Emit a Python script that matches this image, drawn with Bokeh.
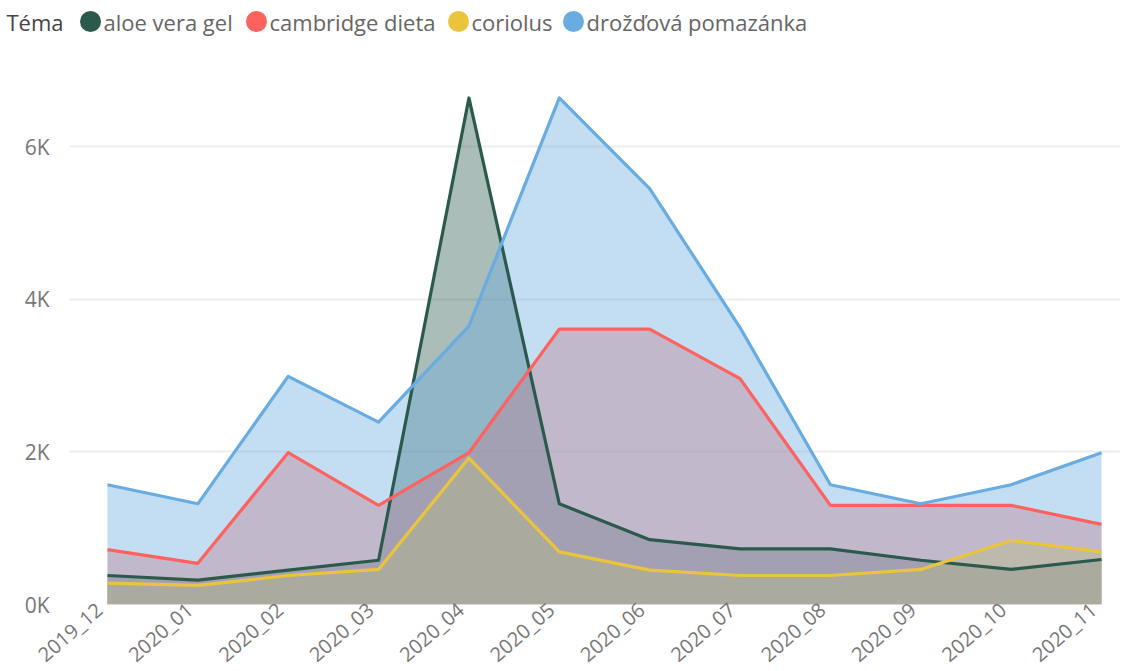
import math
from bokeh.plotting import figure
from bokeh.layouts import column
from bokeh.models import Range1d, FixedTicker, LinearAxis
from bokeh.core.properties import value
from bokeh.embed import file_html
from bokeh.resources import INLINE

# ---- data ----
months = ["2019_12", "2020_01", "2020_02", "2020_03", "2020_04", "2020_05",
          "2020_06", "2020_07", "2020_08", "2020_09", "2020_10", "2020_11"]
aloe_vera_gel = [380, 320, 450, 580, 6640, 1320, 850, 730, 730, 580, 460, 590]
cambridge_dieta = [720, 540, 1990, 1300, 1990, 3610, 3610, 2960, 1300, 1300, 1300, 1050]
coriolus = [280, 250, 380, 460, 1920, 690, 450, 380, 380, 460, 840, 690]
drozdova_pomazanka = [1570, 1320, 2990, 2390, 3650, 6640, 5450, 3630, 1570, 1320, 1570, 1990]

series_names = ["aloe vera gel", "cambridge dieta", "coriolus", "drožďová pomazánka"]
series_values = [aloe_vera_gel, cambridge_dieta, coriolus, drozdova_pomazanka]
colors = ["#2B5A4D", "#FD625E", "#EBC43E", "#68ACE2"]
legend_title = "Téma"
y_ticks = [0, 2000, 4000, 6000]
y_tick_labels = ["0K", "2K", "4K", "6K"]

FONT = "Open Sans"
x = list(range(len(months)))

LEFT = 69
FRAME_W = 1051
LEG_Y = 19
X0, X1 = -0.42, 11.21
LABEL_SHIFT = 0.09  # rotated month labels sit slightly left of their points

# ---- legend strip (data units == pixels) ----
leg = figure(frame_width=FRAME_W, frame_height=40, output_backend="svg",
             toolbar_location=None,
             x_range=Range1d(LEFT, LEFT + FRAME_W), y_range=Range1d(0, 40),
             min_border_left=LEFT, min_border_right=0, min_border_top=0,
             min_border_bottom=0, outline_line_color=None)
leg.xaxis.visible = False
leg.grid.visible = False
# legend title rendered as the single label of the strip's left axis
leg.yaxis.ticker = FixedTicker(ticks=[LEG_Y])
leg.yaxis.major_label_overrides = {LEG_Y: legend_title}
leg.yaxis.axis_line_color = None
leg.yaxis.major_tick_line_color = None
leg.yaxis.minor_tick_line_color = None
leg.yaxis.major_tick_out = 0
leg.yaxis.major_tick_in = 0
leg.yaxis.major_label_standoff = 6
leg.yaxis.major_label_text_font = FONT
leg.yaxis.major_label_text_font_size = "22px"
leg.yaxis.major_label_text_color = "#444444"

circle_x = [90, 256, 458, 573]
for cx, name, col in zip(circle_x, series_names, colors):
    leg.scatter(x=[cx], y=[LEG_Y], size=21, marker="circle",
                fill_color=col, line_color=None)
    leg.text(x=[cx + 13], y=[LEG_Y], text=[name], text_font=value(FONT),
             text_font_size="22px", text_color="#666666",
             text_align="left", text_baseline="middle")

# ---- main chart ----
p = figure(frame_width=FRAME_W, frame_height=534, output_backend="svg",
           toolbar_location=None, x_axis_location=None,
           x_range=Range1d(X0, X1), y_range=Range1d(0, 7000),
           min_border_left=LEFT, min_border_right=0, min_border_top=30,
           min_border_bottom=64, outline_line_color=None)
p.extra_x_ranges = {"lbl": Range1d(X0 + LABEL_SHIFT, X1 + LABEL_SHIFT)}

for vals, col in zip(series_values, colors):
    p.varea(x=x, y1=[0] * len(vals), y2=vals, fill_color=col, fill_alpha=0.4)
for vals, col in zip(series_values, colors):
    p.line(x=x, y=vals, line_color=col, line_width=3.2, line_join="round")

p.xgrid.visible = False
p.ygrid.grid_line_color = "#EDEDED"
p.ygrid.grid_line_width = 2
p.ygrid.ticker = FixedTicker(ticks=y_ticks)

p.yaxis.ticker = FixedTicker(ticks=y_ticks)
p.yaxis.major_label_overrides = {t: l for t, l in zip(y_ticks, y_tick_labels)}
p.yaxis.axis_line_color = None
p.yaxis.major_tick_line_color = None
p.yaxis.minor_tick_line_color = None
p.yaxis.major_tick_out = 0
p.yaxis.major_tick_in = 0
p.yaxis.major_label_standoff = 20
p.yaxis.major_label_text_font = FONT
p.yaxis.major_label_text_font_size = "21px"
p.yaxis.major_label_text_color = "#777777"

xaxis = LinearAxis(x_range_name="lbl", ticker=FixedTicker(ticks=x),
                   major_label_overrides={i: m for i, m in zip(x, months)},
                   axis_line_color=None, major_tick_line_color=None,
                   minor_tick_line_color=None, major_tick_out=0, major_tick_in=0,
                   major_label_orientation=math.radians(41),
                   major_label_standoff=2,
                   major_label_text_font=FONT,
                   major_label_text_font_size="20px",
                   major_label_text_color="#777777")
p.add_layout(xaxis, "below")

layout = column(leg, p, spacing=0)
open("out.html", "w").write(file_html(layout, INLINE))
